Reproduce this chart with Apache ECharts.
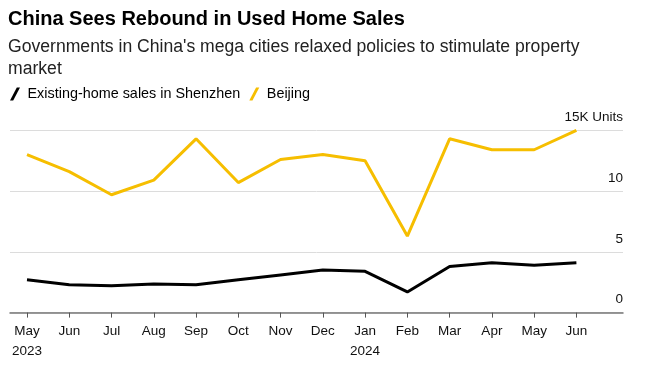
<!DOCTYPE html>
<html><head><meta charset="utf-8">
<script src="https://cdn.jsdelivr.net/npm/echarts@6/dist/echarts.min.js"></script>
<style>html,body{margin:0;padding:0;background:#fff}#c{width:652px;height:366px}</style>
</head><body><div id="c"></div>
<script>
const categories = ['May\n2023','Jun','Jul','Aug','Sep','Oct','Nov','Dec','Jan\n2024','Feb','Mar','Apr','May','Jun'];
const shenzhen = [2.7,2.3,2.2,2.35,2.3,2.7,3.1,3.5,3.4,1.7,3.8,4.1,3.9,4.1];
const beijing = [13.0,11.6,9.7,10.9,14.3,10.7,12.6,13.0,12.5,6.3,14.3,13.4,13.4,15.0];
const yTicks = [0,5,10,15];
const FONT = 'Liberation Sans';
const chart = echarts.init(document.getElementById('c'), null, {renderer:'canvas'});
chart.setOption({
  animation:false,
  textStyle:{fontFamily:FONT},
  title:[
    {text:'China Sees Rebound in Used Home Sales', left:8, top:9, padding:0,
     textStyle:{fontFamily:FONT, fontSize:20, fontWeight:'bold', color:'#000'}},
    {text:"Governments in China's mega cities relaxed policies to stimulate property\nmarket", left:8, top:36, padding:0,
     textStyle:{fontFamily:FONT, fontSize:17.6, fontWeight:'normal', color:'#222', lineHeight:22}}
  ],
  legend:{left:10, top:87, padding:0, itemWidth:11, itemHeight:13, itemGap:9,
    textStyle:{fontFamily:FONT, fontSize:14.4, color:'#000', padding:[0,0,0,2]},
    data:[{name:'Existing-home sales in Shenzhen', icon:'path://M0,13 L3.2,13 L10,0 L6.8,0 Z'},
          {name:'Beijing', icon:'path://M0,13 L3.2,13 L10,0 L6.8,0 Z'}]},
  grid:[
    {left:10, right:29, top:130.3, bottom:53.4},
    {left:27, right:75.6, top:130.3, bottom:53.4}
  ],
  xAxis:[
    {type:'value', gridIndex:0, min:0, max:1, axisLine:{show:true, onZero:false, lineStyle:{color:'#777', width:1.5}},
     axisTick:{show:false}, axisLabel:{show:false}, splitLine:{show:false}},
    {type:'category', gridIndex:1, data:categories, boundaryGap:false,
     axisLine:{show:false}, axisTick:{show:true, alignWithLabel:true, length:5, lineStyle:{color:'#555'}},
     axisLabel:{fontFamily:FONT, fontSize:13.5, color:'#111', margin:9, lineHeight:20, interval:0}}
  ],
  yAxis:[
    {type:'value', gridIndex:0, min:0, max:15, interval:5, position:'right',
     axisLine:{show:false}, axisTick:{show:false},
     splitLine:{lineStyle:{color:'#dcdcdc', width:1}},
     axisLabel:{inside:true, margin:0, verticalAlign:'bottom', padding:[0,0,6,0],
       fontFamily:FONT, fontSize:13.5, color:'#111',
       formatter:v=> v===15 ? '15K Units' : (yTicks.includes(v)? String(v):'')}},
    {type:'value', gridIndex:1, min:0, max:15, interval:5, show:false}
  ],
  series:[
    {name:'Existing-home sales in Shenzhen', type:'line', xAxisIndex:1, yAxisIndex:1, data:shenzhen,
     symbol:'none', lineStyle:{color:'#000', width:3}, itemStyle:{color:'#000'}},
    {name:'Beijing', type:'line', xAxisIndex:1, yAxisIndex:1, data:beijing,
     symbol:'none', lineStyle:{color:'#f6be00', width:3}, itemStyle:{color:'#f6be00'}}
  ]
});
</script></body></html>
